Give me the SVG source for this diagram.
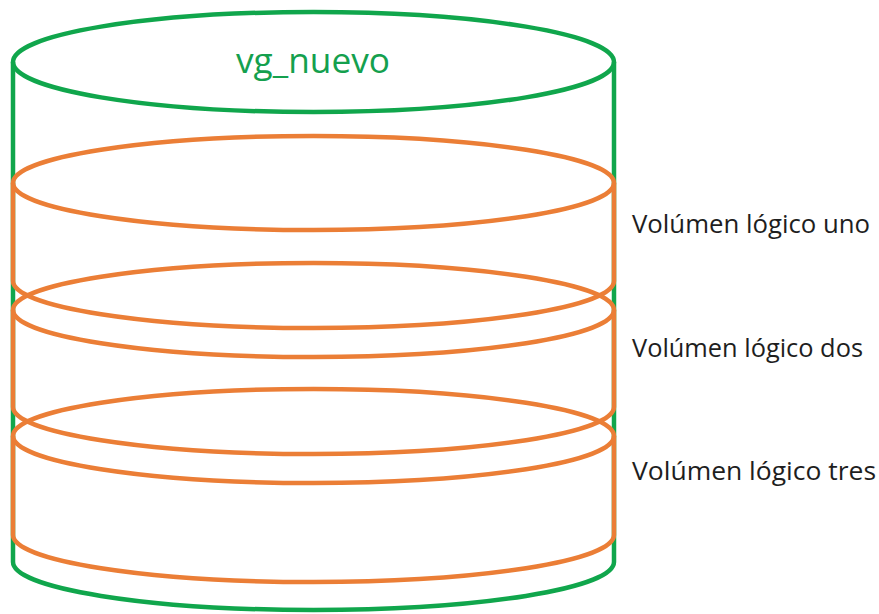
<svg xmlns="http://www.w3.org/2000/svg" width="879" height="614" viewBox="0 0 879 614">
  <style>
    .vg { fill: none; stroke: #10A64C; stroke-width: 4.5; }
    .lv { fill: none; stroke: #EB7E36; stroke-width: 4.5; }
    .title { font-family: "Open Sans", "Noto Sans", sans-serif; font-size: 35px; fill: #14A04E; }
    .label { font-family: "Open Sans", "Noto Sans", sans-serif; font-size: 25.5px; fill: #1E1E1E; }
  </style>
  <rect width="879" height="614" fill="#FFFFFF"/>

  <!-- volume group: outer green cylinder -->
  <g id="vg_nuevo">
    <ellipse class="vg" cx="313.5" cy="62" rx="300.5" ry="50"/>
    <path class="vg" d="M13 62 V562 A300.5 48 0 0 0 614 562 V62"/>
    <text class="title" x="236" y="73" textLength="154" lengthAdjust="spacingAndGlyphs">vg_nuevo</text>
  </g>

  <!-- logical volume 1 -->
  <g id="lv_uno">
    <ellipse class="lv" cx="313.5" cy="183" rx="300.5" ry="47"/>
    <path class="lv" d="M13 183 V281 A300.5 47 0 0 0 614 281 V183"/>
    <text class="label" x="632" y="233" textLength="238" lengthAdjust="spacingAndGlyphs">Volúmen lógico uno</text>
  </g>

  <!-- logical volume 2 -->
  <g id="lv_dos">
    <ellipse class="lv" cx="313.5" cy="310" rx="300.5" ry="47"/>
    <path class="lv" d="M13 310 V407 A300.5 47 0 0 0 614 407 V310"/>
    <text class="label" x="632" y="357" textLength="231" lengthAdjust="spacingAndGlyphs">Volúmen lógico dos</text>
  </g>

  <!-- logical volume 3 -->
  <g id="lv_tres">
    <ellipse class="lv" cx="313.5" cy="436" rx="300.5" ry="47"/>
    <path class="lv" d="M13 436 V535 A300.5 47 0 0 0 614 535 V436"/>
    <text class="label" x="632" y="480" textLength="244" lengthAdjust="spacingAndGlyphs">Volúmen lógico tres</text>
  </g>

  <g id="connectors"/>
</svg>
